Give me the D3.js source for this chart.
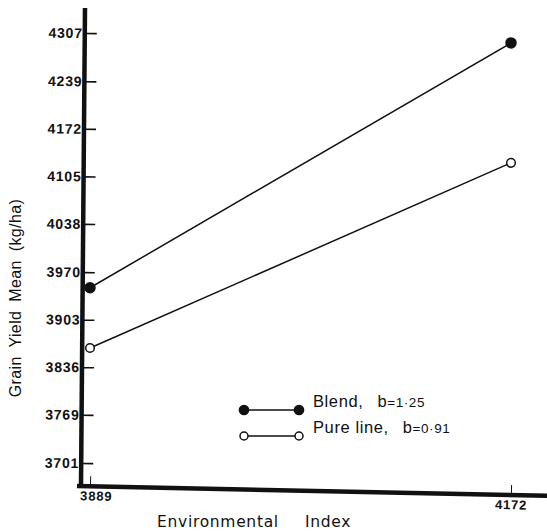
<!DOCTYPE html>
<html>
<head>
<meta charset="utf-8">
<script src="https://cdn.jsdelivr.net/npm/d3@7"></script>
<style>
  body { margin: 0; background: #fff; }
  text { fill: #111; }
</style>
</head>
<body>
<div id="Area"></div>
<script>
// data
var envIndex = [3889, 4172];
var blendYield = [3948, 4293];
var pureYield = [3863, 4124];
var seriesNames = ["Blend,", "Pure line,"];
var seriesB = ["1·25", "0·91"];
var yTicks = [3701, 3769, 3836, 3903, 3970, 4038, 4105, 4172, 4239, 4307];
var xTicks = [3889, 4172];

var W = 547, H = 532;
var sVg = d3.select("#Area").append("svg")
  .attr("width", W)
  .attr("height", H);

var x = d3.scaleLinear().domain([3889, 4172]).range([90, 511]);
var y = d3.scaleLinear().domain([3701, 4307]).range([463, 33]);

// y axis (the original is drawn a bit crooked)
var gy = sVg.append("g")
  .attr("transform", "rotate(0.48,80,485) translate(81,0)");
gy.call(d3.axisLeft(y).tickValues(yTicks).tickSizeInner(-12).tickSizeOuter(0).tickPadding(2).tickFormat(d3.format("d")));
gy.select(".domain").remove();
gy.selectAll(".tick line").attr("stroke", "#111").attr("stroke-width", 1.6);
gy.selectAll(".tick text")
  .style("font-family", "Liberation Sans, Arial, sans-serif")
  .style("font-size", "14px")
  .style("font-weight", "bold")
  .style("letter-spacing", "0.8px");
gy.append("line")
  .attr("x1", 0).attr("x2", 0)
  .attr("y1", 8).attr("y2", 487)
  .attr("stroke", "#111").attr("stroke-width", 4.5);

// x axis
var gx = sVg.append("g")
  .attr("transform", "rotate(1.2,80,485) translate(0,486)");
gx.call(d3.axisBottom(x).tickValues(xTicks).tickSizeInner(-10).tickSizeOuter(0).tickPadding(5).tickFormat(d3.format("d")));
gx.select(".domain").remove();
gx.selectAll(".tick line").attr("stroke", "#111").attr("stroke-width", 1);
gx.selectAll(".tick text")
  .style("font-family", "Liberation Sans, Arial, sans-serif")
  .style("font-size", "13px")
  .style("font-weight", "bold")
  .style("letter-spacing", "0.8px")
  .attr("dx", function (d, i) { return i == 0 ? 6 : 0; });
gx.append("line")
  .attr("x1", 77).attr("x2", 560)
  .attr("y1", 0).attr("y2", 0)
  .attr("stroke", "#111").attr("stroke-width", 4.5);

// axis titles
sVg.append("text")
  .attr("transform", "translate(21,298) rotate(-90)")
  .attr("text-anchor", "middle")
  .style("font-family", "Liberation Sans, Arial, sans-serif")
  .style("font-size", "16px")
  .style("letter-spacing", "0.4px")
  .style("word-spacing", "4px")
  .text("Grain Yield Mean (kg/ha)");

var xt = sVg.append("text")
  .attr("y", 527)
  .style("font-family", "DejaVu Sans, sans-serif")
  .style("font-size", "15.5px")
  .style("letter-spacing", "0.7px");
xt.append("tspan").attr("x", 157).text("Environmental");
xt.append("tspan").attr("x", 305).text("Index");

// lines and points
var series = [
  { name: seriesNames[0], b: seriesB[0], vals: blendYield, fill: "#111" },
  { name: seriesNames[1], b: seriesB[1], vals: pureYield, fill: "#fff" }
];
var line = d3.line()
  .x(function (d) { return x(d[0]); })
  .y(function (d) { return y(d[1]); });

series.forEach(function (s) {
  var pts = envIndex.map(function (e, i) { return [e, s.vals[i]]; });
  sVg.append("path")
    .attr("d", line(pts))
    .attr("fill", "none")
    .attr("stroke", "#111")
    .attr("stroke-width", 1.5);
  sVg.selectAll(null)
    .data(pts)
    .enter()
    .append("circle")
    .attr("cx", function (d) { return x(d[0]); })
    .attr("cy", function (d) { return y(d[1]); })
    .attr("r", s.fill == "#fff" ? 4.3 : 5)
    .attr("fill", s.fill)
    .attr("stroke", "#111")
    .attr("stroke-width", 1.5);
});

// legend
var lg = sVg.append("g").attr("transform", "translate(244,410)");
series.forEach(function (s, i) {
  var row = lg.append("g").attr("transform", "translate(0," + (i * 26) + ")");
  row.append("line")
    .attr("x1", 0).attr("x2", 55)
    .attr("stroke", "#111").attr("stroke-width", 1.5);
  row.selectAll(null)
    .data([0, 55])
    .enter()
    .append("circle")
    .attr("cx", function (d) { return d; })
    .attr("r", s.fill == "#fff" ? 4 : 4.6)
    .attr("fill", s.fill)
    .attr("stroke", "#111")
    .attr("stroke-width", 1.5);
  var t = row.append("text")
    .attr("x", 69).attr("y", -3)
    .style("font-family", "Liberation Sans, Arial, sans-serif")
    .style("font-size", "16.5px")
    .style("letter-spacing", "0.6px");
  t.append("tspan").text(s.name);
  t.append("tspan").attr("dx", 14).text("b");
  t.append("tspan").style("font-size", "13.5px").text("=" + s.b);
});
</script>
</body>
</html>
